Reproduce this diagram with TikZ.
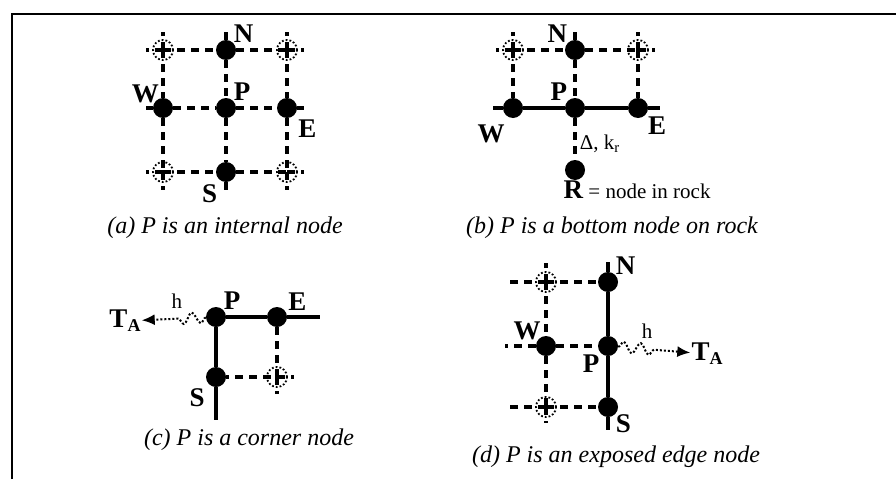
\documentclass[tikz,border=0pt]{standalone}
\usepackage{fontspec}
\setmainfont{Liberation Serif}
\usetikzlibrary{positioning,arrows.meta,decorations.pathmorphing}
\newcommand{\lblfont}{\fontsize{27}{27}\selectfont\bfseries}
\newcommand{\capfont}{\fontsize{24}{24}\selectfont\itshape}
\newcommand{\smallfont}{\fontsize{21}{21}\selectfont}
\newcommand{\Tamb}{\textbf{T\raisebox{-0.3ex}{\fontsize{18}{18}\selectfont A}}}

\begin{document}
\begin{tikzpicture}[
	x=1pt, y=-1pt,
	% labels N, S, E, W, P beside the nodes
	every label/.style={
		font=\lblfont,
		inner sep=0.5pt
	},
	% grid nodes: real ones and missing ones
	dot/.style={
		circle,
		fill=black,
		inner sep=0pt,
		minimum size=20pt
	},
	ghost/.style={
		circle,
		draw=black,
		dotted,
		line width=1.8pt,
		inner sep=0pt,
		minimum size=20pt
	},
	% links between nodes
	gridline/.style={
		draw=black,
		line width=3.2pt,
		dash pattern=on 8pt off 6pt
	},
	wall/.style={
		draw=black,
		line width=3.4pt
	},
	% convection to the air
	heat/.style={
		draw=black,
		line width=2pt,
		dotted,
		-{Latex[length=13pt,width=11pt]},
		decorate,
		decoration={snake, amplitude=5.5pt, segment length=17pt, post length=30pt}
	},
	caption/.style={
		font=\capfont
	},
	frame/.style={
		draw=black,
		line width=1.4pt
	}
	]
	
	\useasboundingbox (0,0) rectangle (896,479);
	\draw[frame] (12,479) -- (12,14) -- (896,14);
	
	% ================= (a) INTERNAL NODE =================
	\node[ghost] (aNW) at (163, 50) {};
	\node[dot, label={45:N}] (aN) at (226, 50) {};
	\node[ghost] (aNE) at (287, 50) {};
	\node[dot, label={[label distance=-5pt]130:W}] (aW) at (163,108) {};
	\node[dot, label={45:P}] (aP) at (226,108) {};
	\node[dot, label={[label distance=5pt]-45:E}] (aE) at (287,108) {};
	\node[ghost] (aSW) at (163,172) {};
	\node[dot, label={[label distance=4pt]235:S}] (aS) at (226,172) {};
	\node[ghost] (aSE) at (287,172) {};
	
	\draw[gridline] (aNW.center) -- (aN) -- (aNE.center);
	\draw[gridline] (aW) -- (aP) -- (aE);
	\draw[gridline] (aSW.center) -- (aS) -- (aSE.center);
	\draw[gridline] (aNW.center) -- (aW) -- (aSW.center);
	\draw[gridline] (aN) -- (aP) -- (aS);
	\draw[gridline] (aNE.center) -- (aE) -- (aSE.center);
	\draw[gridline] (aNW.center) -- ++(-17,0);
	\draw[gridline] (aNW.center) -- ++(0,-18);
	\draw[gridline] (aN) -- ++(0,-18);
	\draw[gridline] (aNE.center) -- ++(17,0);
	\draw[gridline] (aNE.center) -- ++(0,-18);
	\draw[gridline] (aW) -- ++(-17,0);
	\draw[gridline] (aE) -- ++(17,0);
	\draw[gridline] (aSW.center) -- ++(-17,0);
	\draw[gridline] (aSW.center) -- ++(0,18);
	\draw[gridline] (aS) -- ++(0,18);
	\draw[gridline] (aSE.center) -- ++(17,0);
	\draw[gridline] (aSE.center) -- ++(0,18);
	
	\node[caption] (capA) at (225,228) {(a) P is an internal node};
	
	% ================= (b) BOTTOM NODE ON ROCK =================
	\node[ghost] (bNW) at (513, 50) {};
	\node[dot, label={135:N}] (bN) at (575, 50) {};
	\node[ghost] (bNE) at (638, 50) {};
	\node[dot, label={[label distance=8pt]245:W}] (bW) at (513,108) {};
	\node[dot, label={135:P}] (bP) at (575,108) {};
	\node[dot, label={[label distance=2pt]-40:E}] (bE) at (638,108) {};
	\node[dot, label={[anchor=north west, xshift=-12pt, font=\smallfont]270:{{\lblfont R} = node in rock}}] (bR) at (575,170) {};
	\coordinate (bWl) at (493,108);
	\coordinate (bEr) at (660,108);
	
	\draw[wall] (bWl) -- (bW) -- (bP) -- (bE) -- (bEr);
	\draw[gridline] (bNW.center) -- (bN) -- (bNE.center);
	\draw[gridline] (bNW.center) -- (bW);
	\draw[gridline] (bN) -- (bP);
	\draw[gridline] (bNE.center) -- (bE);
	\draw[gridline] (bP) -- node[pos=0.62, right, font=\smallfont] {Δ, k\textsubscript{r}} (bR);
	\draw[gridline] (bNW.center) -- ++(-17,0);
	\draw[gridline] (bNW.center) -- ++(0,-18);
	\draw[gridline] (bN) -- ++(0,-18);
	\draw[gridline] (bNE.center) -- ++(17,0);
	\draw[gridline] (bNE.center) -- ++(0,-18);
	
	\node[caption] (capB) at (612,228) {(b) P is a bottom node on rock};
	
	% ================= (c) CORNER NODE =================
	\node[dot, label={45:P}] (cP) at (216,317) {};
	\node[dot, label={[label distance=2pt]30:E}] (cE) at (277,317) {};
	\node[dot, label={[label distance=5pt]225:S}] (cS) at (216,377) {};
	\node[ghost] (cSE) at (277,377) {};
	\node[font=\lblfont, inner sep=1pt] (cTA) at (125,321) {\Tamb};
	\coordinate (cEr) at (320,317);
	\coordinate (cSd) at (216,420);
	
	\draw[wall] (cP) -- (cE) -- (cEr);
	\draw[wall] (cP) -- (cS) -- (cSd);
	\draw[gridline] (cE) -- (cSE.center) -- (cS);
	\draw[gridline] (cSE.center) -- ++(17,0);
	\draw[gridline] (cSE.center) -- ++(0,17);
	\draw[heat] (cP) -- node[above=6pt, pos=.45, font=\smallfont] {h} (cTA);
	
	\node[caption] (capC) at (249,440) {(c) P is a corner node};
	
	% ================= (d) EXPOSED EDGE NODE =================
	\node[ghost] (dNW) at (546,282) {};
	\node[dot, label={45:N}] (dN) at (608,282) {};
	\node[dot, label={[label distance=-3pt]130:W}] (dW) at (546,346) {};
	\node[dot, label={[label distance=1pt]225:P}] (dP) at (608,346) {};
	\node[ghost] (dSW) at (546,407) {};
	\node[dot, label={-45:S}] (dS) at (608,407) {};
	\node[font=\lblfont, inner sep=1pt] (dTA) at (707,354) {\Tamb};
	\coordinate (dNu) at (608,262);
	\coordinate (dSd) at (608,430);
	
	\draw[wall] (dNu) -- (dN) -- (dP) -- (dS) -- (dSd);
	\draw[gridline] (dNW.center) -- (dN);
	\draw[gridline] (dW) -- (dP);
	\draw[gridline] (dSW.center) -- (dS);
	\draw[gridline] (dNW.center) -- (dW) -- (dSW.center);
	\draw[gridline] (dNW.center) -- ++(-41,0);
	\draw[gridline] (dNW.center) -- ++(0,-19);
	\draw[gridline] (dW) -- ++(-41,0);
	\draw[gridline] (dSW.center) -- ++(-41,0);
	\draw[gridline] (dSW.center) -- ++(0,16);
	\draw[heat] (dP) -- node[above=6pt, pos=.4, font=\smallfont] {h} (dTA);
	
	\node[caption] (capD) at (616,457) {(d) P is an exposed edge node};
	
\end{tikzpicture}
\end{document}
